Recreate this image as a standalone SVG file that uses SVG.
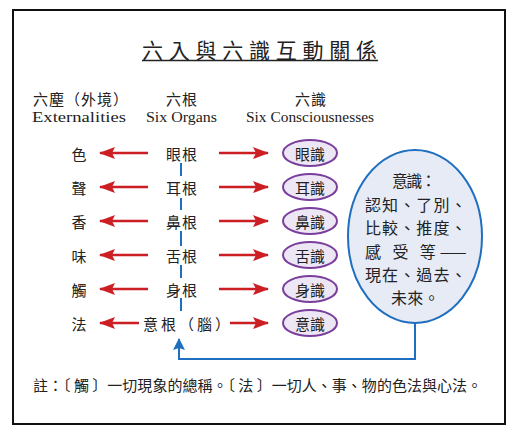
<svg xmlns="http://www.w3.org/2000/svg" width="520" height="442" viewBox="0 0 520 442">
<style>
.cjk{font-family:"Noto Sans CJK TC","Noto Sans CJK SC",sans-serif;fill:#222;}
.en{font-family:"Liberation Serif",serif;fill:#222;font-size:14px;}
.row{font-size:15px;text-anchor:middle;dominant-baseline:central;}
.red{stroke:#cc1f24;stroke-width:2.5;fill:none;}
.eye{fill:#ece6f5;stroke:#7a3e9d;stroke-width:2;}
.blue{stroke:#1f6fc0;stroke-width:2;fill:none;}
.mt{font-size:16px;letter-spacing:1.5px;}
</style>
<defs>
<marker id="ra" viewBox="0 0 16 12" refX="15" refY="6" markerWidth="16" markerHeight="12" markerUnits="userSpaceOnUse" orient="auto"><path d="M0,0 L16,6 L0,12 L3,6 z" fill="#cc1f24"/></marker>
<marker id="ba" viewBox="0 0 12 12" refX="11" refY="6" markerWidth="12" markerHeight="12" markerUnits="userSpaceOnUse" orient="auto"><path d="M0,0 L12,6 L0,12 L2,6 z" fill="#1f6fc0"/></marker>
</defs>
<rect x="0" y="0" width="520" height="442" fill="#fff"/>
<rect x="13" y="10" width="492" height="414" fill="#fff" stroke="#111" stroke-width="2"/>
<g id="title">
<text class="cjk" x="142" y="49" font-size="21" dominant-baseline="central" textLength="235" lengthAdjust="spacing">六入與六識互動關係</text>
<line x1="142" y1="60.5" x2="378" y2="60.5" stroke="#222" stroke-width="1.3"/>
</g>
<g id="headers">
<text class="cjk" x="33" y="98" font-size="15" dominant-baseline="central" textLength="95" lengthAdjust="spacing">六塵（外境）</text>
<text class="cjk" x="182" y="98" font-size="15" text-anchor="middle" dominant-baseline="central" letter-spacing="1">六根</text>
<text class="cjk" x="311" y="98" font-size="15" text-anchor="middle" dominant-baseline="central" letter-spacing="1">六識</text>
<text class="en" x="32" y="122" textLength="94" lengthAdjust="spacingAndGlyphs">Externalities</text>
<text class="en" x="146" y="122" textLength="71" lengthAdjust="spacingAndGlyphs">Six Organs</text>
<text class="en" x="246" y="122" textLength="128" lengthAdjust="spacingAndGlyphs">Six Consciousnesses</text>
</g>
<g id="connectors">
<line class="red" x1="148" y1="153" x2="100" y2="153" marker-end="url(#ra)"/>
<line class="red" x1="148" y1="187" x2="100" y2="187" marker-end="url(#ra)"/>
<line class="red" x1="148" y1="221" x2="100" y2="221" marker-end="url(#ra)"/>
<line class="red" x1="148" y1="255" x2="100" y2="255" marker-end="url(#ra)"/>
<line class="red" x1="148" y1="289" x2="100" y2="289" marker-end="url(#ra)"/>
<line class="red" x1="139" y1="323" x2="100" y2="323" marker-end="url(#ra)"/>
<line class="red" x1="219" y1="153" x2="268" y2="153" marker-end="url(#ra)"/>
<line class="red" x1="219" y1="187" x2="268" y2="187" marker-end="url(#ra)"/>
<line class="red" x1="219" y1="221" x2="268" y2="221" marker-end="url(#ra)"/>
<line class="red" x1="219" y1="255" x2="268" y2="255" marker-end="url(#ra)"/>
<line class="red" x1="219" y1="289" x2="268" y2="289" marker-end="url(#ra)"/>
<line class="red" x1="230" y1="323" x2="268" y2="323" marker-end="url(#ra)"/>
<path class="blue" d="M181,163 V176 M181,198 V210 M181,231 V246 M181,265 V278 M181,298 V311"/>
<path class="blue" d="M415,323 V359 H179 V339" marker-end="url(#ba)"/>
</g>
<g id="externals">
<text class="cjk row" x="79" y="153">色</text>
<text class="cjk row" x="79" y="187">聲</text>
<text class="cjk row" x="79" y="221">香</text>
<text class="cjk row" x="79" y="255">味</text>
<text class="cjk row" x="79" y="289">觸</text>
<text class="cjk row" x="79" y="323">法</text>
</g>
<g id="organs">
<text class="cjk row" x="182" y="153" letter-spacing="1">眼根</text>
<text class="cjk row" x="182" y="187" letter-spacing="1">耳根</text>
<text class="cjk row" x="182" y="221" letter-spacing="1">鼻根</text>
<text class="cjk row" x="182" y="255" letter-spacing="1">舌根</text>
<text class="cjk row" x="182" y="289" letter-spacing="1">身根</text>
<text class="cjk" x="143" y="323" font-size="15" dominant-baseline="central" textLength="87" lengthAdjust="spacing">意根（腦）</text>
</g>
<g id="consciousness">
<g id="c1"><ellipse class="eye" cx="310" cy="153" rx="27" ry="13"/><text class="cjk row" x="310" y="153">眼識</text></g>
<g id="c2"><ellipse class="eye" cx="310" cy="187" rx="27" ry="13"/><text class="cjk row" x="310" y="187">耳識</text></g>
<g id="c3"><ellipse class="eye" cx="310" cy="221" rx="27" ry="13"/><text class="cjk row" x="310" y="221">鼻識</text></g>
<g id="c4"><ellipse class="eye" cx="310" cy="255" rx="27" ry="13"/><text class="cjk row" x="310" y="255">舌識</text></g>
<g id="c5"><ellipse class="eye" cx="310" cy="289" rx="27" ry="13"/><text class="cjk row" x="310" y="289">身識</text></g>
<g id="c6"><ellipse class="eye" cx="310" cy="323" rx="27" ry="13"/><text class="cjk row" x="310" y="323">意識</text></g>
</g>
<g id="mind">
<ellipse cx="415" cy="236.5" rx="67" ry="86.5" fill="#e6ebf6" stroke="#1f6fc0" stroke-width="2"/>
<text class="cjk mt" x="392" y="180" dominant-baseline="central" textLength="46" lengthAdjust="spacing">意識：</text>
<text class="cjk mt" x="365" y="204" dominant-baseline="central" textLength="103" lengthAdjust="spacing">認知、了別、</text>
<text class="cjk mt" x="365" y="227" dominant-baseline="central" textLength="103" lengthAdjust="spacing">比較、推度、</text>
<text class="cjk mt" x="365" y="251" dominant-baseline="central" textLength="103" lengthAdjust="spacing">感 受 等——</text>
<text class="cjk mt" x="365" y="274" dominant-baseline="central" textLength="103" lengthAdjust="spacing">現在、過去、</text>
<text class="cjk mt" x="391" y="297" dominant-baseline="central" textLength="50" lengthAdjust="spacing">未來。</text>
</g>
<g id="note">
<text class="cjk" x="33" y="384" font-size="15" dominant-baseline="central" textLength="449" lengthAdjust="spacing">註：〔 觸 〕一切現象的總稱。〔 法 〕一切人、事、物的色法與心法。</text>
</g>
</svg>
